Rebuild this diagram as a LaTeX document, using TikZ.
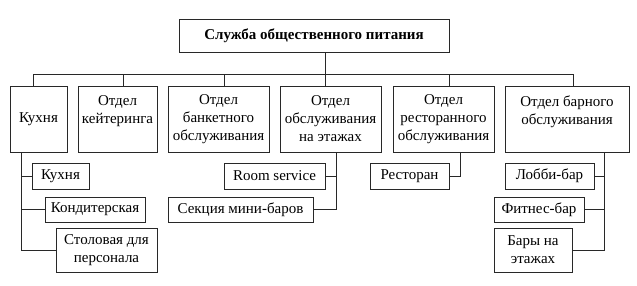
\documentclass[tikz,border=0pt]{standalone}
\usepackage{fontspec}
\setmainfont{Liberation Serif}
\usetikzlibrary{positioning}
\definecolor{orgline}{RGB}{40, 40, 40}
\newcommand{\orgfont}{\fontsize{15}{18}\selectfont}

\begin{document}
\begin{tikzpicture}[
        x=1pt, y=-1pt,
        head/.style={draw=orgline, line width=0.8pt, minimum width=270pt, minimum height=33pt, inner sep=0pt, font=\orgfont\bfseries},
        dept/.style={draw=orgline, line width=0.8pt, minimum height=66pt, inner sep=0pt, align=center, font=\orgfont},
        unit/.style={draw=orgline, line width=0.8pt, minimum height=26pt, inner sep=0pt, align=center, font=\orgfont},
        ln/.style={orgline, line width=0.8pt}
      ]
        \useasboundingbox (0,0) rectangle (637,285);

        % top
        \node[head] (chief) at (314,35.5) {Служба общественного питания};

        % departments
        \node[dept, minimum width=57pt] (kitchen) at (38.5,119) {Кухня};
        \node[dept, minimum width=79pt] (catering) at (117.5,119) {Отдел\\кейтеринга\\~};
        \node[dept, minimum width=101pt] (banquet) at (218.5,119) {Отдел\\банкетного\\обслуживания};
        \node[dept, minimum width=101pt] (floors) at (330.5,119) {Отдел\\обслуживания\\на этажах};
        \node[dept, minimum width=101pt] (restdept) at (443.5,119) {Отдел\\ресторанного\\обслуживания};
        \node[dept, minimum width=124pt] (bar) at (567,119) {Отдел барного\\обслуживания\\~};

        % units
        \node[unit, minimum width=57pt] (kitsub) at (60.5,176) {Кухня};
        \node[unit, minimum width=100pt, minimum height=25pt] (confect) at (95,209.5) {Кондитерская};
        \node[unit, minimum width=101pt, minimum height=44pt] (canteen) at (106.5,250) {Столовая для\\персонала};
        \node[unit, minimum width=101pt] (roomsvc) at (274.5,176) {Room service};
        \node[unit, minimum width=145pt, minimum height=25pt] (minibar) at (240.5,209.5) {Секция мини-баров};
        \node[unit, minimum width=79pt] (rest) at (409.5,176) {Ресторан};
        \node[unit, minimum width=89pt] (lobby) at (549.5,176) {Лобби-бар};
        \node[unit, minimum width=90pt, minimum height=25pt] (fitness) at (539,209.5) {Фитнес-бар};
        \node[unit, minimum width=78pt, minimum height=44pt] (floorbar) at (533,250) {Бары на\\этажах};

        % bus
        \coordinate (busL) at (33,74);
        \coordinate (busR) at (573,74);
        \draw[ln] (chief.south -| 325,0) -- (floors.north -| 325,0);
        \draw[ln] (busL) -- (busR);
        \foreach \n/\x in {kitchen/33, catering/123, banquet/224, restdept/449, bar/573}
          \draw[ln] (\x,74) -- (\x,74 |- \n.north);

        % sub units
        \foreach \s in {kitsub, confect, canteen}
          \draw[ln] (kitchen.south -| 21,0) |- (\s.west);
        \foreach \s in {roomsvc, minibar}
          \draw[ln] (floors.south -| 336,0) |- (\s.east);
        \draw[ln] (restdept.south -| 460,0) |- (rest.east);
        \foreach \s in {lobby, fitness, floorbar}
          \draw[ln] (bar.south -| 604,0) |- (\s.east);
      \end{tikzpicture}
\end{document}
